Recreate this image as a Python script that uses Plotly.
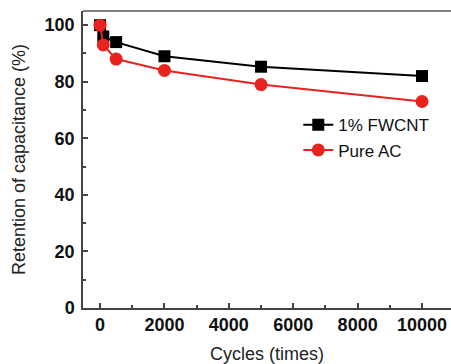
import plotly.graph_objects as go

cycles = [0, 100, 500, 2000, 5000, 10000]
fwcnt = [100, 96, 94, 89, 85.3, 82]
pure_ac = [100, 93, 88, 84, 79, 73]

x_ticks = [0, 2000, 4000, 6000, 8000, 10000]
y_ticks = [0, 20, 40, 60, 80, 100]

fig = go.Figure()
fig.add_trace(go.Scatter(x=cycles, y=fwcnt, name="1% FWCNT", mode="lines+markers",
                         line=dict(color="black", width=2),
                         marker=dict(symbol="square", size=12, color="black")))
fig.add_trace(go.Scatter(x=cycles, y=pure_ac, name="Pure AC", mode="lines+markers",
                         line=dict(color="#e8231f", width=2),
                         marker=dict(symbol="circle", size=13, color="#e8231f")))

FAM = "Liberation Sans, Arial"
axis_font = dict(family=FAM, size=18, color="#222")
tick_font = dict(family=FAM, size=18, color="#111", weight="bold")
fig.update_layout(
    width=451, height=364,
    margin=dict(l=83, r=0, t=11, b=56),
    plot_bgcolor="white", paper_bgcolor="white",
    showlegend=True,
    legend=dict(x=0.585, y=0.676, xanchor="left", yanchor="top",
                font=dict(family=FAM, size=17, color="#111"),
                bgcolor="rgba(0,0,0,0)", tracegroupgap=0),
    font=dict(family=FAM),
)
fig.update_xaxes(range=[-530, 10900], tickvals=x_ticks, ticktext=[str(v) for v in x_ticks],
                 ticks="inside", ticklen=5, tickwidth=1.5, tickcolor="#444",
                 minor=dict(dtick=1000, tick0=0, ticks="inside", ticklen=3, tickcolor="#444"),
                 showline=True, linecolor="#444", linewidth=1.5, showgrid=False, zeroline=False,
                 tickfont=tick_font, ticklabeloverflow="allow", automargin=False,
                 title=dict(text="Cycles (times)", font=axis_font, standoff=15))
fig.update_yaxes(range=[0, 105], tickvals=y_ticks, ticktext=[str(v) for v in y_ticks],
                 ticks="inside", ticklen=5, tickwidth=1.5, tickcolor="#444",
                 minor=dict(dtick=10, tick0=0, ticks="inside", ticklen=3, tickcolor="#444"),
                 showline=True, linecolor="#444", linewidth=1.5, showgrid=False, zeroline=False,
                 tickfont=tick_font, ticklabeloverflow="allow", automargin=False,
                 ticklabelstandoff=3,
                 title=dict(text="Retention of capacitance (%)", font=axis_font, standoff=14))
fig.add_shape(type="line", xref="paper", yref="paper", x0=0, x1=1, y0=1, y1=1,
              line=dict(color="#555", width=1.5))
fig.write_html("out.html", config={"displayModeBar": False},
               post_script="document.body.style.margin='0';document.body.style.overflow='hidden';")
